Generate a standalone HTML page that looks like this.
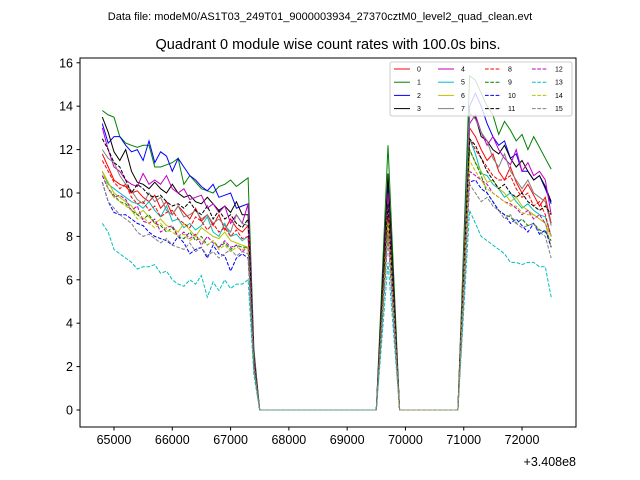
<!DOCTYPE html>
<html><head><meta charset="utf-8"><style>
body{margin:0;background:#fff}
svg{display:block;font-family:"Liberation Sans","DejaVu Sans",sans-serif}
</style></head><body>
<svg id="c" width="640" height="480" viewBox="0 0 640 480">
<rect x="0" y="0" width="640" height="480" fill="#fff"/>
<text x="320" y="20" font-size="11" text-anchor="middle">Data file: modeM0/AS1T03_249T01_9000003934_27370cztM0_level2_quad_clean.evt</text>
<text x="328" y="49" font-size="14.5" text-anchor="middle">Quadrant 0 module wise count rates with 100.0s bins.</text>
<g id="plot"></g>
<rect x="80" y="58" width="496" height="369" fill="none" stroke="#000" stroke-width="1"/>
<g id="axes"></g>
<text x="576" y="466" font-size="12.5" text-anchor="end">+3.408e8</text>
<g id="legend"></g>
</svg>
<script>
const xTicks=[65000,66000,67000,68000,69000,70000,71000,72000];
const yTicks=[0,2,4,6,8,10,12,14,16];
const colors=['#ff0000','#008000','#0000ff','#000000','#bf00bf','#00bfbf','#bfbf00','#808080'];
const leftTimes=[64800,64900,65000,65100,65200,65300,65400,65500,65600,65700,65800,65900,66000,66100,66200,66300,66400,66500,66600,66700,66800,66900,67000,67100,67200,67300];
const rightTimes=[71100,71200,71300,71400,71500,71600,71700,71800,71900,72000,72100,72200,72300,72400,72500];
const left=[
[11.8,11.2,10.6,10.4,10.3,10.0,10.1,9.8,9.6,9.9,9.3,9.6,9.0,9.4,9.1,8.8,9.3,8.7,9.0,8.5,9.0,8.3,8.8,8.4,8.2,8.5],
[13.8,13.6,13.5,12.6,12.3,12.2,12.1,12.2,12.2,11.2,11.2,11.3,11.4,11.6,10.4,10.8,10.5,10.2,10.1,10.0,10.3,10.4,10.6,10.3,10.5,10.7],
[13.2,12.3,12.6,12.6,12.2,11.9,12.0,11.5,12.4,11.4,11.9,11.7,11.0,11.6,11.2,10.8,10.6,10.3,10.1,10.4,9.8,9.9,10.0,9.3,9.4,9.5],
[13.5,12.8,11.9,11.5,12.0,11.0,10.5,10.4,10.2,10.5,10.2,10.0,10.4,10.0,9.8,9.9,9.6,9.5,9.8,9.5,9.2,9.4,9.1,9.6,9.0,9.0],
[13.0,12.0,11.2,11.0,10.6,10.4,10.3,10.9,10.4,10.6,10.4,10.8,10.2,10.0,10.2,9.7,9.8,9.9,9.3,9.5,9.1,9.4,8.6,9.0,8.6,9.5],
[11.0,10.4,10.2,10.0,9.8,9.6,9.5,9.3,9.6,9.2,8.9,9.4,8.7,8.8,8.4,8.6,8.3,8.5,8.9,8.2,8.0,8.6,8.0,8.1,7.8,8.0],
[11.0,10.5,10.0,9.8,9.6,9.4,9.0,9.2,8.9,8.6,8.8,8.5,8.4,8.2,8.6,8.3,8.0,8.4,8.2,8.0,7.9,8.2,7.8,7.7,7.6,7.5],
[12.0,11.6,11.4,10.8,10.4,10.1,9.7,9.5,10.0,9.6,9.8,9.2,9.0,9.4,8.9,9.0,9.2,8.8,9.0,8.6,8.8,8.5,8.2,9.0,8.6,8.5],
[11.5,11.0,10.5,10.2,10.4,9.8,9.5,9.6,9.2,9.4,8.9,9.1,9.2,8.8,8.6,8.4,8.9,8.7,8.3,8.6,8.2,8.4,8.0,8.3,7.9,8.0],
[10.8,10.2,9.9,9.6,9.5,9.2,9.0,8.8,9.0,8.6,8.5,8.2,8.4,8.0,7.9,8.2,7.8,8.0,7.6,7.8,7.5,7.7,7.4,7.6,7.5,7.5],
[10.5,9.6,9.1,9.0,9.0,8.8,8.6,8.5,8.2,8.0,7.9,7.8,7.6,8.0,7.7,7.2,7.4,7.5,7.0,7.6,7.2,7.1,6.4,7.0,7.2,7.0],
[12.5,12.0,11.4,11.2,10.6,10.0,10.4,10.2,9.9,9.8,9.9,9.6,9.4,9.5,9.3,9.6,9.2,9.0,9.4,8.8,9.2,8.8,9.0,8.6,8.4,8.8],
[10.8,10.2,9.8,9.9,9.7,9.2,9.4,8.7,8.6,8.8,8.2,8.4,8.5,8.0,8.2,7.9,8.1,7.6,8.0,7.7,7.5,7.8,7.5,7.6,7.3,7.5],
[8.6,8.2,7.4,7.2,7.0,6.8,6.5,6.6,6.6,6.7,6.3,6.4,6.0,5.8,5.7,6.0,5.8,6.2,5.2,5.9,5.5,6.0,5.6,5.8,5.8,6.0],
[11.0,10.2,9.8,9.6,9.4,9.2,8.8,8.9,8.6,8.4,8.6,8.3,8.2,8.0,8.1,7.8,8.0,7.8,7.6,7.8,7.4,7.6,7.3,7.5,7.4,7.5],
[10.5,9.6,9.3,9.0,8.8,8.6,8.2,8.0,8.1,7.9,7.7,7.9,7.6,7.5,7.4,7.7,7.3,7.5,7.1,7.3,7.0,7.2,7.4,7.1,7.3,7.2]];
const drops=[2.2,2.8,2.5,2.4,2.5,2.1,2.0,2.3,2.1,2.0,1.9,2.3,2.0,1.6,2.0,1.9];
const peaks=[9.5,12.2,10.5,10.9,10.0,8.5,8.8,9.5,9.0,8.6,8.0,9.5,8.4,6.8,8.7,8.0];
const right=[
[13.0,12.6,12.0,11.5,11.8,11.0,10.6,11.2,10.5,10.0,10.4,9.9,9.4,9.8,8.6],
[15.4,15.2,14.6,14.0,13.6,12.7,13.3,12.9,12.4,12.7,12.0,12.6,12.1,11.6,11.1],
[14.0,14.6,14.0,13.2,12.6,12.2,12.4,11.6,11.8,11.0,11.0,10.6,10.8,10.2,9.5],
[13.6,13.5,12.6,12.4,12.0,11.8,12.2,11.6,11.2,11.5,11.0,10.6,10.8,10.3,9.6],
[13.2,13.6,12.8,12.2,12.6,12.0,11.6,11.3,12.0,11.0,11.4,10.8,11.0,10.6,9.0],
[12.5,11.8,10.9,10.8,10.4,10.2,9.8,10.0,9.6,9.3,9.5,9.2,9.0,8.9,8.0],
[12.0,11.4,11.0,10.5,10.6,10.2,10.0,9.6,9.8,9.4,9.2,9.0,8.8,8.6,7.5],
[13.7,13.4,12.8,12.4,11.6,11.2,11.8,11.0,10.6,10.2,10.6,10.0,9.8,9.6,8.5],
[12.5,12.0,11.6,11.2,10.8,10.6,10.6,10.8,10.2,9.8,10.0,9.4,9.6,9.0,8.0],
[12.0,11.4,10.8,10.0,9.6,9.2,9.0,8.9,8.6,8.8,8.5,8.6,8.3,8.2,7.8],
[10.5,10.6,10.2,10.0,9.6,9.2,9.0,8.6,8.8,8.5,8.2,8.6,8.1,8.3,7.5],
[12.5,12.2,11.6,11.0,10.6,10.2,10.4,10.0,9.8,10.0,9.6,9.4,9.2,9.4,9.0],
[11.0,10.8,10.6,10.4,10.0,9.8,9.6,9.5,9.3,9.0,9.2,8.8,9.0,8.6,8.0],
[9.2,8.6,8.0,7.8,7.6,7.4,7.2,6.8,6.8,6.7,6.8,6.8,6.6,6.6,5.2],
[11.5,11.0,10.6,10.2,10.0,9.8,9.6,9.4,9.4,9.1,9.0,9.0,8.8,8.6,8.0],
[10.4,10.0,9.6,9.8,9.4,9.2,8.8,9.0,8.6,8.4,8.5,8.6,8.2,8.0,7.0]];

const NS='http://www.w3.org/2000/svg';
const xs=t=>114+(t-65000)*0.05829;
const ys=v=>410-v*21.7;
const plot=document.getElementById('plot');
for(let i=0;i<16;i++){
  const pts=[];
  leftTimes.forEach((t,j)=>pts.push([t,left[i][j]]));
  pts.push([67400,drops[i]],[67500,0],[69500,0],[69700,peaks[i]],[69900,0],[70900,0]);
  rightTimes.forEach((t,j)=>pts.push([t,right[i][j]]));
  const p=document.createElementNS(NS,'polyline');
  p.setAttribute('points',pts.map(q=>xs(q[0]).toFixed(1)+','+ys(q[1]).toFixed(1)).join(' '));
  p.setAttribute('fill','none');
  p.setAttribute('stroke',colors[i%8]);
  p.setAttribute('stroke-width','1');
  if(i>=8)p.setAttribute('stroke-dasharray','3.7,1.6');
  
  
  plot.appendChild(p);
}
const ax=document.getElementById('axes');
xTicks.forEach(t=>{
  const l=document.createElementNS(NS,'line');
  l.setAttribute('x1',xs(t));l.setAttribute('x2',xs(t));l.setAttribute('y1',427);l.setAttribute('y2',430.5);l.setAttribute('stroke','#000');
  
  
  ax.appendChild(l);
  const tx=document.createElementNS(NS,'text');
  tx.setAttribute('x',xs(t));tx.setAttribute('y',444);tx.setAttribute('font-size','12.5');tx.setAttribute('text-anchor','middle');
  tx.textContent=t;
  
  
  ax.appendChild(tx);
});
yTicks.forEach(v=>{
  const l=document.createElementNS(NS,'line');
  l.setAttribute('x1',76.5);l.setAttribute('x2',80);l.setAttribute('y1',ys(v));l.setAttribute('y2',ys(v));l.setAttribute('stroke','#000');
  
  
  ax.appendChild(l);
  const tx=document.createElementNS(NS,'text');
  tx.setAttribute('x',73);tx.setAttribute('y',ys(v)+4.5);tx.setAttribute('font-size','12.5');tx.setAttribute('text-anchor','end');
  tx.textContent=v;
  
  
  ax.appendChild(tx);
});
const lg=document.getElementById('legend');
const box=document.createElementNS(NS,'rect');
box.setAttribute('x',390);box.setAttribute('y',62);box.setAttribute('width',182);box.setAttribute('height',54);box.setAttribute('rx',2);
box.setAttribute('fill','rgba(255,255,255,0.8)');box.setAttribute('stroke','#ccc');


lg.appendChild(box);
const colX=[394,438,485,532];
for(let i=0;i<16;i++){
  const c=Math.floor(i/4),r=i%4;
  const y=69+r*13.2,x=colX[c];
  const l=document.createElementNS(NS,'line');
  l.setAttribute('x1',x);l.setAttribute('x2',x+16);l.setAttribute('y1',y);l.setAttribute('y2',y);
  l.setAttribute('stroke',colors[i%8]);l.setAttribute('stroke-width','1');
  if(i>=8)l.setAttribute('stroke-dasharray','3.7,1.6');
  
  
  lg.appendChild(l);
  const tx=document.createElementNS(NS,'text');
  tx.setAttribute('x',x+23);tx.setAttribute('y',y+2.5);tx.setAttribute('font-size','7');
  tx.textContent=i;
  
  
  lg.appendChild(tx);
}
</script>
</body></html>
